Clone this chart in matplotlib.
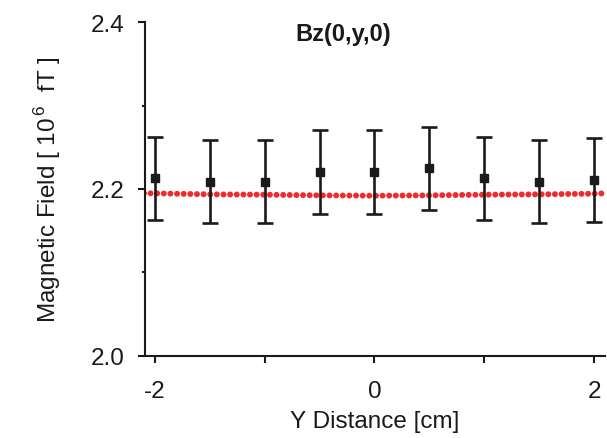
import matplotlib
matplotlib.use("Agg")
import matplotlib.pyplot as plt
from matplotlib.ticker import FixedLocator

plt.rcParams['font.family'] = ['Liberation Sans', 'DejaVu Sans']
plt.rcParams['mathtext.fontset'] = 'custom'
plt.rcParams['mathtext.rm'] = 'Liberation Sans'

# measured data
y_pos = [-2.0, -1.5, -1.0, -0.5, 0.0, 0.5, 1.0, 1.5, 2.0]
bz_meas = [2.2128, 2.2088, 2.2088, 2.2204, 2.2204, 2.2248, 2.2128, 2.2088, 2.2108]
bz_err = [0.050, 0.050, 0.050, 0.050, 0.050, 0.050, 0.050, 0.050, 0.050]

# simulated curve
sim_y = [-2.1, -2.0, -1.5, -1.0, -0.5, 0.0, 0.5, 1.0, 1.5, 2.0, 2.1]
sim_bz = [2.1948, 2.1948, 2.1936, 2.1932, 2.1924, 2.1920, 2.1924, 2.1932, 2.1936, 2.1944, 2.1948]

fig = plt.figure(figsize=(6.07, 4.39), dpi=100)
ax = fig.add_axes([0.2389, 0.1868, 0.7578, 0.7608])

ax.plot(sim_y, sim_bz, color='#ee2b2f', lw=4.3, linestyle=(0, (0.01, 1.1)),
        dash_capstyle='round', zorder=2)
ax.errorbar(y_pos, bz_meas, yerr=bz_err, fmt='s', color='#1a1a1a', ms=5.6,
            elinewidth=1.9, capsize=6, capthick=1.9, zorder=3)

ax.set_xlim(-2.09, 2.1)
ax.set_ylim(2.0, 2.4)

ax.set_xticks([-2, 0, 2])
ax.set_xticklabels(['-2', '0', '2'])
ax.xaxis.set_minor_locator(FixedLocator([-1, 1]))
ax.set_yticks([2.0, 2.2, 2.4])
ax.set_yticklabels(['2.0', '2.2', '2.4'])
ax.yaxis.set_minor_locator(FixedLocator([2.1, 2.3]))

for s in ['top', 'right']:
    ax.spines[s].set_visible(False)
for s in ['left', 'bottom']:
    ax.spines[s].set_linewidth(1.5)
    ax.spines[s].set_color('#1a1a1a')

ax.tick_params(axis='both', which='major', direction='out', length=5, width=1.5,
               labelsize=17.5, pad=10, colors='#1a1a1a')
ax.tick_params(axis='x', which='major', pad=12)
ax.tick_params(axis='x', which='minor', direction='out', length=5, width=1.5, color='#1a1a1a')
ax.tick_params(axis='y', which='minor', direction='out', length=2.5, width=1.5, color='#1a1a1a')

ax.set_xlabel('Y Distance [cm]', fontsize=17.5, labelpad=6, color='#1a1a1a')
ax.set_ylabel(r'Magnetic Field [ 10$^{\,6}$  fT ]', fontsize=17.5, labelpad=20, color='#1a1a1a')

ax.text(0.43, 1.0, 'Bz(0,y,0)', transform=ax.transAxes, ha='center', va='top',
        fontsize=17, fontweight='bold', color='#1a1a1a')

fig.savefig('out.png', dpi=100)
